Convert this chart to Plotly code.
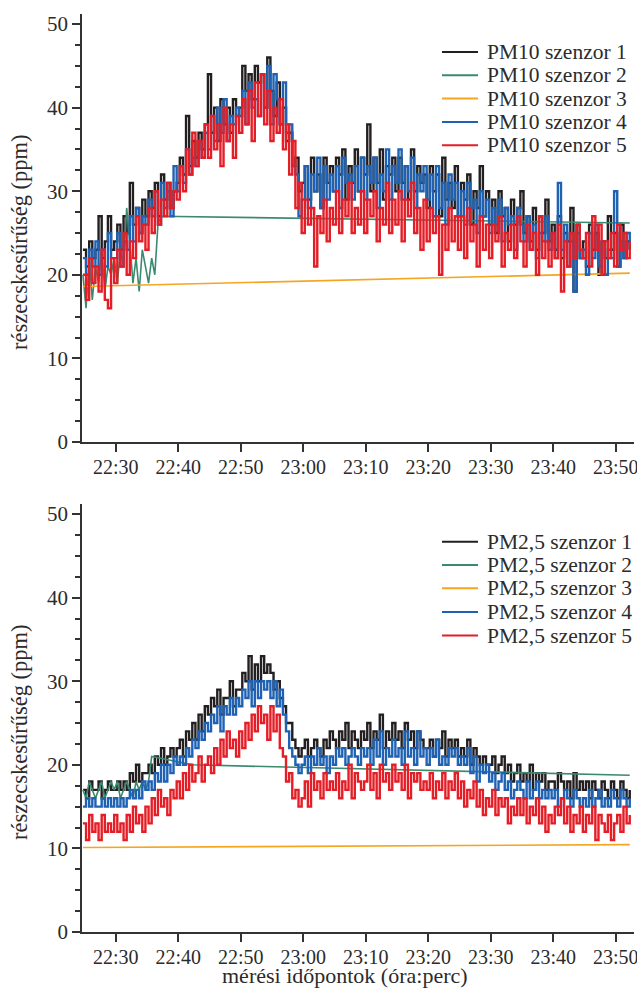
import plotly.graph_objects as go
import pandas as pd

# ---- time axis: readings every 30 s, 22:24:45 -> 23:52:15 ----
START = "2021-03-01 22:24:45"
N_POINTS = 176
times = pd.date_range(START, periods=N_POINTS, freq="30s")

sensor_names = ["szenzor 1", "szenzor 2", "szenzor 3", "szenzor 4", "szenzor 5"]
colors = ["#231f20", "#3b8a70", "#f5a51f", "#1f62b3", "#e41e26"]

# ---- PM10 values (ppm) ----
pm10_s1 = [
    23, 21, 24, 22, 23, 27, 22, 24, 27, 23,
    24, 26, 23, 27, 25, 31, 26, 28, 25, 29,
    27, 30, 28, 31, 27, 32, 29, 31, 28, 30,
    31, 34, 32, 39, 33, 36, 34, 37, 35, 38,
    44, 37, 40, 36, 41, 38, 40, 37, 41, 39,
    40, 45, 42, 44, 41, 45, 43, 44, 40, 46,
    42, 39, 43, 38, 40, 36, 37, 33, 34, 30,
    31, 33, 29, 34, 30, 32, 28, 34, 31, 33,
    30, 34, 32, 35, 29, 33, 31, 35, 30, 34,
    32, 38, 30, 34, 31, 35, 29, 33, 32, 34,
    30, 34, 31, 33, 29, 35, 30, 33, 31, 32,
    28, 33, 30, 32, 27, 34, 29, 31, 28, 33,
    27, 31, 29, 32, 26, 30, 28, 33, 27, 30,
    26, 29, 25, 30, 27, 28, 24, 29, 26, 28,
    30, 25, 27, 24, 28, 23, 27, 25, 29, 24,
    26, 23, 27, 22, 25, 24, 28, 18, 26, 22,
    24, 21, 26, 23, 25, 20, 24, 22, 27, 23,
    25, 21, 26, 22, 24, 23,
]
pm10_s2_early = [
    20, 16, 22, 17, 21, 19, 23, 18, 21, 20,
    22, 19, 23, 21, 28, 24, 19, 22, 18, 23,
    21, 19, 22, 20, 26, 27,
]
pm10_s2_last = 26.2
pm10_s3_first = 18.6
pm10_s3_last = 20.2
pm10_s4 = [
    22, 20, 23, 21, 24, 20, 23, 21, 25, 22,
    22, 25, 21, 24, 23, 27, 24, 28, 25, 27,
    26, 29, 27, 30, 26, 31, 28, 30, 27, 33,
    30, 33, 31, 35, 32, 34, 33, 36, 34, 37,
    35, 39, 36, 40, 37, 41, 36, 39, 38, 40,
    39, 42, 38, 43, 40, 41, 39, 44, 40, 45,
    38, 44, 41, 38, 43, 37, 38, 33, 32, 27,
    29, 33, 28, 32, 30, 34, 28, 33, 29, 32,
    30, 33, 28, 34, 31, 32, 29, 33, 30, 34,
    29, 33, 31, 34, 28, 32, 30, 35, 29, 33,
    31, 35, 29, 33, 30, 34, 28, 32, 30, 33,
    29, 32, 27, 33, 28, 31, 26, 32, 29, 31,
    27, 30, 26, 31, 28, 29, 25, 30, 27, 29,
    25, 28, 26, 29, 24, 28, 26, 27, 23, 28,
    26, 24, 27, 23, 26, 22, 25, 24, 27, 23,
    25, 22, 31, 23, 26, 21, 24, 18, 25, 22,
    23, 20, 25, 22, 26, 21, 24, 20, 23, 22,
    30, 21, 24, 22, 25, 23,
]
pm10_s5 = [
    20, 17, 22, 19, 21, 18, 23, 17, 16, 22,
    19, 23, 21, 25, 20, 24, 22, 27, 24, 26,
    23, 28, 25, 30, 26, 29, 27, 31, 28, 30,
    29, 33, 30, 35, 32, 37, 33, 36, 34, 38,
    34, 39, 35, 38, 33, 40, 36, 38, 34, 39,
    37, 41, 38, 42, 36, 43, 39, 44, 38, 42,
    36, 40, 37, 41, 35, 38, 32, 36, 28, 31,
    25, 29, 26, 28, 21, 27, 25, 29, 24, 28,
    26, 30, 25, 29, 27, 31, 25, 28, 26, 30,
    25, 29, 27, 30, 24, 28, 26, 31, 25, 29,
    26, 30, 24, 29, 27, 31, 25, 28, 23, 29,
    24, 28, 25, 27, 20, 26, 23, 28, 24, 27,
    23, 27, 22, 28, 24, 26, 21, 27, 23, 26,
    22, 26, 24, 27, 21, 25, 23, 26, 22, 27,
    24, 21, 26, 23, 25, 20, 27, 22, 24, 21,
    25, 22, 26, 18, 24, 21, 25, 22, 26, 23,
    22, 25, 21, 27, 23, 26, 20, 24, 22, 25,
    21, 26, 23, 25, 22, 24,
]

# ---- PM2,5 values (ppm) ----
pm25_s1 = [
    17, 16, 18, 17, 17, 18, 16, 17, 18, 17,
    17, 18, 17, 18, 17, 19, 18, 20, 18, 19,
    19, 20, 19, 21, 20, 22, 20, 21, 22, 21,
    22, 23, 21, 24, 23, 25, 23, 26, 24, 27,
    26, 28, 27, 29, 26, 28, 28, 30, 27, 29,
    29, 31, 30, 33, 29, 32, 30, 33, 31, 32,
    31, 29, 30, 28, 27, 25, 25, 23, 22, 21,
    22, 23, 21, 22, 23, 22, 21, 23, 22, 24,
    23, 22, 24, 23, 25, 22, 24, 23, 22, 24,
    23, 25, 22, 24, 23, 26, 22, 24, 23, 25,
    23, 24, 22, 25, 23, 24, 22, 24, 23, 22,
    22, 23, 21, 23, 22, 24, 21, 23, 22, 23,
    21, 22, 21, 23, 20, 22, 21, 20, 21, 20,
    20, 21, 19, 20, 21, 19, 20, 18, 19, 20,
    18, 19, 18, 20, 17, 19, 18, 19, 17, 18,
    18, 17, 19, 18, 17, 18, 16, 19, 17, 18,
    17, 18, 16, 18, 17, 16, 18, 17, 16, 18,
    17, 16, 18, 17, 16, 17,
]
pm25_s2_early = [
    17, 16, 18, 17, 16, 17, 18, 16, 17, 18,
    17, 18, 16, 17, 18, 17, 16, 18, 17, 18,
    17, 18, 21,
]
pm25_s2_resume = 20.0   # reading at 22:42:15
pm25_s2_last = 18.75
pm25_s3_first = 10.1
pm25_s3_last = 10.45
pm25_s4 = [
    15, 16, 15, 16, 15, 15, 16, 15, 16, 15,
    16, 15, 16, 15, 16, 17, 16, 17, 16, 18,
    17, 18, 17, 19, 18, 20, 18, 20, 19, 21,
    20, 21, 20, 22, 21, 23, 22, 24, 23, 25,
    24, 26, 25, 27, 24, 27, 26, 28, 26, 28,
    27, 29, 28, 30, 27, 30, 28, 30, 29, 30,
    28, 30, 27, 29, 26, 24, 22, 21, 20, 19,
    20, 21, 19, 21, 20, 22, 20, 21, 19, 21,
    20, 22, 21, 22, 20, 21, 22, 21, 20, 22,
    21, 22, 20, 23, 21, 24, 20, 22, 21, 23,
    21, 22, 20, 24, 21, 22, 20, 24, 21, 22,
    20, 22, 21, 23, 20, 21, 20, 22, 21, 22,
    20, 21, 20, 22, 19, 21, 18, 20, 19, 20,
    18, 19, 17, 18, 19, 17, 18, 16, 17, 18,
    17, 16, 18, 16, 17, 18, 16, 17, 16, 17,
    16, 17, 15, 16, 17, 16, 15, 17, 16, 15,
    16, 15, 17, 15, 16, 17, 15, 16, 15, 17,
    16, 15, 17, 16, 15, 16,
]
pm25_s5 = [
    13, 11, 14, 12, 13, 11, 14, 12, 13, 12,
    14, 12, 13, 11, 14, 12, 15, 13, 14, 12,
    15, 13, 16, 14, 17, 15, 16, 14, 17, 16,
    18, 16, 19, 17, 20, 18, 19, 21, 18, 20,
    21, 19, 22, 20, 23, 21, 24, 22, 23, 21,
    24, 22, 25, 23, 26, 24, 27, 25, 26, 23,
    27, 24, 26, 22, 21, 18, 19, 16, 17, 15,
    16, 18, 15, 19, 17, 18, 16, 19, 17, 18,
    17, 19, 16, 18, 17, 20, 16, 19, 18, 17,
    18, 20, 17, 19, 16, 20, 18, 19, 17, 20,
    18, 19, 17, 20, 16, 19, 18, 19, 17, 18,
    17, 19, 16, 18, 17, 19, 16, 18, 17, 19,
    16, 18, 15, 17, 16, 18, 15, 17, 14, 16,
    15, 17, 14, 16, 15, 16, 13, 15, 14, 16,
    14, 16, 13, 15, 14, 16, 13, 15, 12, 14,
    13, 15, 14, 16, 13, 15, 12, 14, 13, 15,
    12, 14, 13, 15, 11, 14, 13, 12, 14, 11,
    13, 14, 12, 15, 13, 14,
]

for arr in (pm10_s1, pm10_s4, pm10_s5, pm25_s1, pm25_s4, pm25_s5):
    assert len(arr) == N_POINTS, len(arr)


def with_dropout(early, tail, resume=None, resume_idx=None):
    """Sensor lost readings: None where there was no reading."""
    vals = list(early) + [None] * (N_POINTS - len(early))
    if resume is not None:
        vals[resume_idx] = resume
    vals[-1] = tail
    return vals


pm10_s2 = with_dropout(pm10_s2_early, pm10_s2_last)
pm10_s3 = with_dropout([pm10_s3_first], pm10_s3_last)
pm25_s2 = with_dropout(pm25_s2_early, pm25_s2_last, pm25_s2_resume, 35)
pm25_s3 = with_dropout([pm25_s3_first], pm25_s3_last)

panels = [
    ("PM10", [pm10_s1, pm10_s2, pm10_s3, pm10_s4, pm10_s5], "x", "y"),
    ("PM2,5", [pm25_s1, pm25_s2, pm25_s3, pm25_s4, pm25_s5], "x2", "y2"),
]

FONT = "Liberation Serif, Times New Roman, Times, serif"
TXT = "#2b2b2b"

# layout geometry (pixels)
W, H = 637, 989
ML, MR, MT, MB = 82, 3, 14, 57
PW, PH = W - ML - MR, H - MT - MB


def px_x(px):
    return (px - ML) / PW


def px_y(py):
    return (H - MB - py) / PH


fig = go.Figure()
for prefix, series, xa, ya in panels:
    for name, vals, col in zip(sensor_names, series, colors):
        dense = sum(v is not None for v in vals) > 40
        fig.add_trace(go.Scatter(
            x=times, y=vals, mode="lines", name=f"{prefix} {name}",
            line=dict(color=col, width=2.4 if dense else 1.6,
                      shape="hv" if dense else "linear"),
            connectgaps=True, xaxis=xa, yaxis=ya, showlegend=False,
        ))

X_RANGE = ["2021-03-01 22:24:36", "2021-03-01 23:52:56"]
xcommon = dict(
    type="date", range=X_RANGE, tick0="2021-03-01 22:30:00", dtick=600000,
    tickmode="linear", tickformat="%H:%M", ticks="outside", ticklen=8,
    tickwidth=1.5, tickcolor="#333", showline=True, linecolor="#333",
    linewidth=1.5, showgrid=False, zeroline=False, ticklabelstandoff=-2,
    automargin=False, ticklabeloverflow="allow",
    tickfont=dict(family=FONT, size=20, color=TXT),
)
ycommon = dict(
    range=[0, 51.2], tickvals=[0, 10, 20, 30, 40, 50], ticks="outside",
    ticklen=8, tickwidth=1.5, tickcolor="#333", showline=True,
    linecolor="#333", linewidth=1.5, showgrid=False, zeroline=False,
    automargin=False,
    minor=dict(dtick=2.5, tick0=0, ticks="outside", ticklen=5,
               tickwidth=1.5, tickcolor="#333", showgrid=False),
    tickfont=dict(family=FONT, size=21, color=TXT),
)

# manual legend (line sample + label), one block per panel
shapes, annotations = [], []
legend_rows = {
    "PM10": [52, 75.3, 98.6, 122, 145.3],
    "PM2,5": [541.7, 565, 588.3, 612, 635.5],
}
for prefix, _, _, _ in panels:
    for name, col, row in zip(sensor_names, colors, legend_rows[prefix]):
        shapes.append(dict(type="line", xref="paper", yref="paper",
                           x0=px_x(442), x1=px_x(478), y0=px_y(row), y1=px_y(row),
                           line=dict(color=col, width=2)))
        annotations.append(dict(text=f"{prefix} {name}", xref="paper", yref="paper",
                                x=px_x(485), y=px_y(row), showarrow=False,
                                xanchor="left", yanchor="middle",
                                font=dict(family=FONT, size=21.5, color=TXT)))

TITLE_Y = "részecskesűrűség (ppm)"
for cy in (242, 732):
    annotations.append(dict(text=TITLE_Y, xref="paper", yref="paper",
                            x=px_x(19), y=px_y(cy), textangle=-90, showarrow=False,
                            xanchor="center", yanchor="middle",
                            font=dict(family=FONT, size=22.5, color=TXT)))
annotations.append(dict(text="mérési időpontok (óra:perc)", xref="paper", yref="paper",
                        x=px_x(345), y=px_y(989), showarrow=False, xanchor="center",
                        yanchor="bottom", borderpad=0,
                        font=dict(family=FONT, size=22, color=TXT)))

fig.update_layout(
    width=W, height=H,
    margin=dict(l=ML, r=MR, t=MT, b=MB),
    paper_bgcolor="white", plot_bgcolor="white",
    showlegend=False,
    xaxis=dict(xcommon, domain=[0, 1], anchor="y"),
    yaxis=dict(ycommon, domain=[px_y(442), 1], anchor="x"),
    xaxis2=dict(xcommon, domain=[0, 1], anchor="y2"),
    yaxis2=dict(ycommon, domain=[0, px_y(504)], anchor="x2"),
    shapes=shapes,
    annotations=annotations,
)

# remove the browser's default 8px page margin so the figure sits at (0, 0)
fig.write_html(
    "out.html",
    config={"displayModeBar": False},
    post_script="document.body.style.margin='0';document.body.style.overflow='hidden';",
)
